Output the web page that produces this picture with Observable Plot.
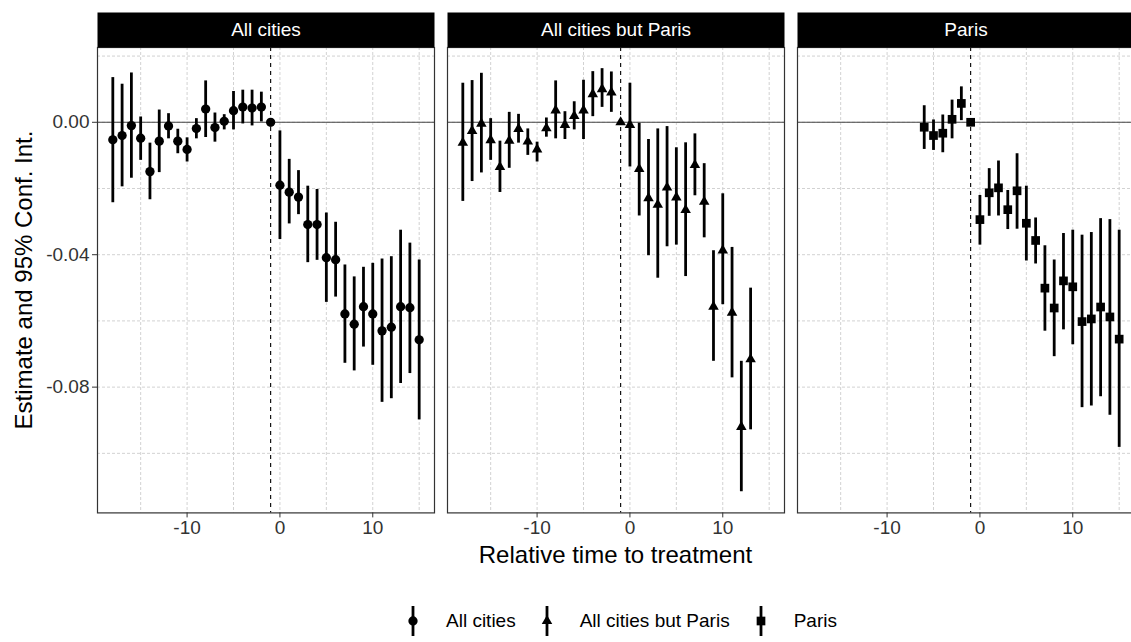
<!DOCTYPE html>
<html>
<head>
<meta charset="utf-8">
<script src="https://cdn.jsdelivr.net/npm/d3@7"></script>
<script src="https://cdn.jsdelivr.net/npm/@observablehq/plot@0.6"></script>
<style>
  body { margin: 0; overflow: hidden; background: #fff; font-family: "Liberation Sans", Arial, sans-serif; }
  #wrap { position: relative; width: 1135px; height: 642px; }
  #chart { position: absolute; left: 0; top: 0; }
  .xtitle { position: absolute; left: 96px; width: 1039px; top: 541px; text-align: center;
            font-size: 24px; line-height: 28px; color: #000; }
  .ytitle { position: absolute; left: -211px; top: 266px; width: 470px; height: 28px; line-height: 28px;
            text-align: center; font-size: 24px; color: #000; transform: rotate(-90deg); }
  .legend { position: absolute; left: 403px; top: 604px; display: flex; align-items: center;
            font-size: 19px; color: #000; }
  .legend .item { display: flex; align-items: center; margin-right: 21px; }
  .legend .item span { margin-left: 23px; }
</style>
</head>
<body>
<div id="wrap"></div>
<script>
// Event-study estimates by relative time to treatment, one series per sample.
const panels = ["All cities", "All cities but Paris", "Paris"];
const symbols = ["circle", "triangle", "square"];

const timeAll = [-18, -17, -16, -15, -14, -13, -12, -11, -10, -9, -8, -7, -6, -5, -4, -3, -2, -1,
                 0, 1, 2, 3, 4, 5, 6, 7, 8, 9, 10, 11, 12, 13, 14, 15];
const estAll = [-0.0053, -0.0040, -0.0010, -0.0048, -0.0149, -0.0057, -0.0011, -0.0057, -0.0082, -0.0019,
                0.0040, -0.0016, 0.0003, 0.0035, 0.0046, 0.0043, 0.0046, 0,
                -0.0190, -0.0211, -0.0226, -0.0309, -0.0309, -0.0409, -0.0415, -0.0579, -0.0610, -0.0557,
                -0.0579, -0.0630, -0.0619, -0.0557, -0.0560, -0.0657];
const loAll = [-0.0243, -0.0195, -0.0169, -0.0115, -0.0234, -0.0152, -0.0050, -0.0095, -0.0120, -0.0050,
               -0.0046, -0.0060, -0.0023, -0.0023, -0.0005, -0.0011, 0.0001, null,
               -0.0354, -0.0307, -0.0279, -0.0424, -0.0417, -0.0544, -0.0528, -0.0728, -0.0751, -0.0679,
               -0.0734, -0.0846, -0.0835, -0.0789, -0.0759, -0.0899];
const hiAll = [0.0135, 0.0115, 0.0149, 0.0016, -0.0063, 0.0037, 0.0026, -0.0021, -0.0047, 0.0011,
               0.0125, 0.0028, 0.0023, 0.0093, 0.0097, 0.0097, 0.0091, null,
               -0.0026, -0.0112, -0.0146, -0.0193, -0.0203, -0.0274, -0.0302, -0.0431, -0.0467, -0.0438,
               -0.0426, -0.0413, -0.0406, -0.0326, -0.0365, -0.0416];

const timeExParis = [-18, -17, -16, -15, -14, -13, -12, -11, -10, -9, -8, -7, -6, -5, -4, -3, -2, -1,
                     0, 1, 2, 3, 4, 5, 6, 7, 8, 9, 10, 11, 12, 13];
const estExParis = [-0.0062, -0.0026, -0.0004, -0.0054, -0.0135, -0.0056, -0.0020, -0.0058, -0.0082, -0.0018,
                    0.0036, -0.0008, 0.0019, 0.0036, 0.0085, 0.0100, 0.0090, 0,
                    -0.0008, -0.0141, -0.0229, -0.0249, -0.0197, -0.0227, -0.0265, -0.0129, -0.0240,
                    -0.0557, -0.0387, -0.0575, -0.0920, -0.0716];
const loExParis = [-0.0239, -0.0179, -0.0153, -0.0115, -0.0212, -0.0139, -0.0063, -0.0100, -0.0120, -0.0045,
                   -0.0050, -0.0052, -0.0023, -0.0052, 0.0017, 0.0045, 0.0030, null,
                   -0.0135, -0.0283, -0.0403, -0.0471, -0.0376, -0.0371, -0.0466, -0.0222, -0.0349,
                   -0.0722, -0.0551, -0.0772, -0.1116, -0.0929];
const hiExParis = [0.0118, 0.0126, 0.0148, 0.0011, -0.0057, 0.0030, 0.0024, -0.0020, -0.0060, 0.0013,
                   0.0125, 0.0032, 0.0062, 0.0127, 0.0153, 0.0162, 0.0152, null,
                   0.0118, -0.0003, -0.0052, -0.0020, -0.0013, -0.0077, -0.0062, -0.0035, -0.0125,
                   -0.0388, -0.0216, -0.0378, -0.0722, -0.0501];

const timeParis = [-6, -5, -4, -3, -2, -1, 0, 1, 2, 3, 4, 5, 6, 7, 8, 9, 10, 11, 12, 13, 14, 15];
const estParis = [-0.0015, -0.0040, -0.0033, 0.0009, 0.0057, 0,
                  -0.0294, -0.0213, -0.0198, -0.0264, -0.0207, -0.0305, -0.0357, -0.0501, -0.0561,
                  -0.0479, -0.0497, -0.0602, -0.0594, -0.0558, -0.0588, -0.0655];
const loParis = [-0.0082, -0.0085, -0.0092, -0.0050, 0.0005, null,
                 -0.0371, -0.0284, -0.0283, -0.0324, -0.0323, -0.0419, -0.0428, -0.0631, -0.0708,
                 -0.0627, -0.0672, -0.0862, -0.0857, -0.0829, -0.0885, -0.0982];
const hiParis = [0.0050, 0.0007, 0.0022, 0.0067, 0.0107, null,
                 -0.0221, -0.0140, -0.0117, -0.0206, -0.0095, -0.0193, -0.0289, -0.0373, -0.0416,
                 -0.0336, -0.0326, -0.0341, -0.0333, -0.0291, -0.0294, -0.0326];

const xTicks = [-10, 0, 10];
const xGrid = [-15, -10, -5, 0, 5, 10, 15];
const yTicks = [0, -0.04, -0.08];
const yGrid = [0.02, 0, -0.02, -0.04, -0.06, -0.08, -0.10];
const treatmentRef = -1;

// Long table: one row per panel and period
const series = [
  [panels[0], timeAll, estAll, loAll, hiAll],
  [panels[1], timeExParis, estExParis, loExParis, hiExParis],
  [panels[2], timeParis, estParis, loParis, hiParis]
];
const rows = series.flatMap(([panel, t, est, lo, hi]) =>
  t.map((ti, i) => ({panel, t: ti, est: est[i], lo: lo[i], hi: hi[i]})));

// ggplot-style 5% expansion of the data range
const yMin = d3.min(rows, d => d.lo ?? d.est), yMax = d3.max(rows, d => d.hi ?? d.est);
const [xMin, xMax] = d3.extent(rows, d => d.t);
const yPad = (yMax - yMin) * 0.05, xPad = (xMax - xMin) * 0.05;

const W = 1135, H = 545, MT = 47, MB = 32.6, ML = 96, MR = 0;
const innerH = H - MT - MB;
const gridStyle = {stroke: "#d2d2d2", strokeOpacity: 1, strokeDasharray: "3,2", strokeWidth: 1};

const chart = Plot.plot({
  width: W, height: H,
  marginTop: MT, marginBottom: MB, marginLeft: ML, marginRight: MR,
  style: {fontFamily: "'Liberation Sans', Arial, sans-serif", background: "white", color: "black"},
  fx: {domain: panels, axis: null, paddingInner: 0.0371, paddingOuter: 0},
  x: {domain: [xMin - xPad, xMax + xPad]},
  y: {domain: [yMin - yPad, yMax + yPad]},
  marks: [
    Plot.gridX({ticks: xGrid, ...gridStyle}),
    Plot.gridY({ticks: yGrid, ...gridStyle}),
    Plot.ruleY([0], {stroke: "#444", strokeWidth: 1.1}),
    Plot.ruleX([treatmentRef], {stroke: "black", strokeWidth: 1.1, strokeDasharray: "4,4"}),
    Plot.ruleX(rows.filter(d => d.lo != null), {
      fx: "panel", x: "t", y1: "lo", y2: "hi", stroke: "black", strokeWidth: 2.8
    }),
    Plot.dot(rows.filter(d => d.panel === panels[0]), {
      fx: "panel", x: "t", y: "est", symbol: symbols[0], r: 4.65, fill: "black", stroke: "none"
    }),
    Plot.dot(rows.filter(d => d.panel === panels[1]), {
      fx: "panel", x: "t", y: "est", symbol: symbols[1], r: 3.9, fill: "black", stroke: "none"
    }),
    Plot.dot(rows.filter(d => d.panel === panels[2]), {
      fx: "panel", x: "t", y: "est", symbol: symbols[2], r: 4.9, fill: "black", stroke: "none"
    }),
    Plot.frame({stroke: "#333", strokeWidth: 1.2}),
    // facet strips
    Plot.frame({fill: "black", insetTop: -35, insetBottom: innerH}),
    Plot.text(panels, {
      fx: d => d, text: d => d, frameAnchor: "top", dy: -17.5, lineAnchor: "middle",
      fill: "white", fontSize: 19
    }),
    Plot.axisX({ticks: xTicks, tickFormat: d => String(d), tickSize: 5, tickPadding: 3,
                fontSize: 19, color: "#333", label: null}),
    Plot.axisY({ticks: yTicks, tickFormat: d => d.toFixed(2), tickSize: 5, tickPadding: 3,
                fontSize: 19, color: "#333", label: null})
  ]
});
chart.id = "chart";

const wrap = document.getElementById("wrap");
wrap.appendChild(chart);

const xTitle = document.createElement("div");
xTitle.className = "xtitle";
xTitle.textContent = "Relative time to treatment";
wrap.appendChild(xTitle);

const yTitle = document.createElement("div");
yTitle.className = "ytitle";
yTitle.textContent = "Estimate and 95% Conf. Int.";
wrap.appendChild(yTitle);

// Legend: error bar with the series marker
const legend = d3.select(wrap).append("div").attr("class", "legend");
const symbolSizes = [Math.PI * 4.65 * 4.65, Math.PI * 3.9 * 3.9, Math.PI * 4.9 * 4.9];
const d3Symbols = {circle: d3.symbolCircle, triangle: d3.symbolTriangle, square: d3.symbolSquare};
panels.forEach((p, i) => {
  const item = legend.append("div").attr("class", "item");
  const svg = item.append("svg").attr("width", 20).attr("height", 34);
  svg.append("line").attr("x1", 10).attr("x2", 10).attr("y1", 2).attr("y2", 32)
    .attr("stroke", "black").attr("stroke-width", 2.8);
  svg.append("path").attr("transform", "translate(10,17)")
    .attr("d", d3.symbol(d3Symbols[symbols[i]], symbolSizes[i])()).attr("fill", "black");
  item.append("span").text(p);
});
</script>
</body>
</html>
